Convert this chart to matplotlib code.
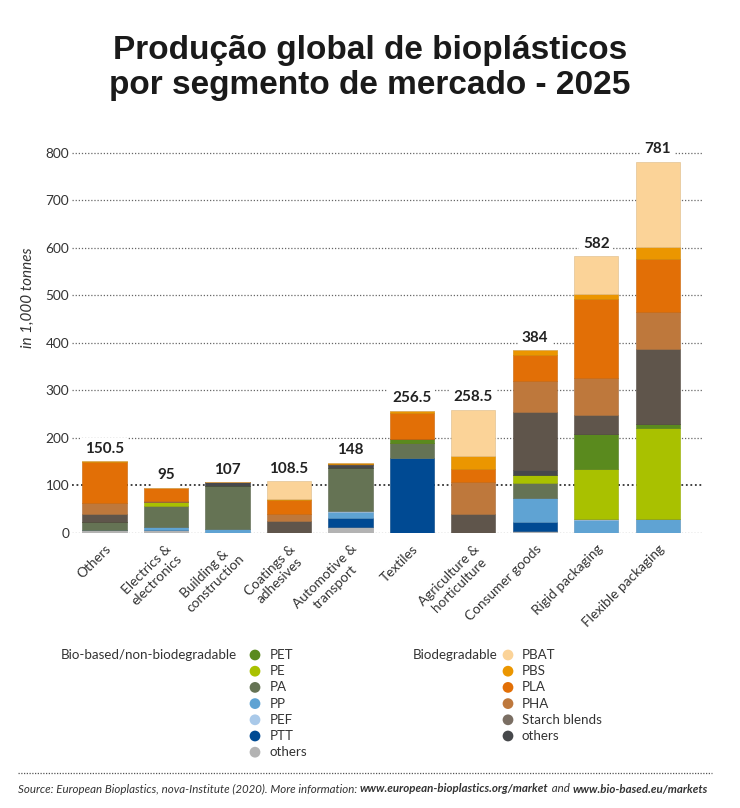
import matplotlib
matplotlib.use("Agg")
import matplotlib.pyplot as plt
import numpy as np
from matplotlib.colors import to_rgb

plt.rcParams['font.family'] = ['Lato', 'DejaVu Sans']

# categories (x axis)
categories = ["Others", "Electrics &\nelectronics", "Building &\nconstruction",
              "Coatings &\nadhesives", "Automotive &\ntransport", "Textiles",
              "Agriculture &\nhorticulture", "Consumer goods", "Rigid packaging",
              "Flexible packaging"]
totals = [150.5, 95, 107, 108.5, 148, 256.5, 258.5, 384, 582, 781]

# bio-based / non-biodegradable (in 1,000 tonnes)
others_bb = [6, 7, 0, 0, 13, 0, 0, 5, 0, 0]
ptt = [0, 0, 0, 0, 19.5, 157.5, 0, 19, 0, 0]
pp = [0, 5.5, 8, 0, 12, 0, 0, 50.5, 28, 29]
pef = [0, 0, 0, 0, 1.5, 0, 0, 0, 2, 0]
pa = [17, 45, 91, 0, 91, 31.5, 0, 31, 0, 0]
pe = [0, 7.5, 0, 0, 0, 0, 0, 16, 105, 191]
pet = [0, 0, 0, 0, 0, 9, 0, 0, 74, 8.5]
# biodegradable
others_bd = [0, 0, 8, 0, 6, 0, 0, 12, 0, 0]
starch = [18, 0, 0, 24.5, 2.5, 0, 41, 121, 39, 158]
pha = [22, 2, 0, 15, 0, 0, 66, 65, 77, 78.5]
pla = [86, 28, 0, 30, 0, 55, 28, 55.5, 168, 111]
pbs = [2.5, 0, 0, 3, 2.5, 3.5, 26.5, 9, 9, 25]
pbat = [0, 0, 0, 36, 0, 0, 97, 0, 80, 180]

# stacking order, bottom to top
stack = [
    (others_bb, "#b3b3b3"), (ptt, "#004a93"), (pp, "#5fa3d3"), (pef, "#a9c9e9"),
    (pa, "#657354"), (pe, "#a9c100"), (pet, "#5a8a1e"), (others_bd, "#46484b"),
    (starch, "#5f554b"), (pha, "#be783c"), (pla, "#e26f06"), (pbs, "#eb9600"),
    (pbat, "#fbd398"),
]

legend_left = [("PET", "#5a8a1e"), ("PE", "#a9c100"), ("PA", "#657354"),
               ("PP", "#5fa3d3"), ("PEF", "#a9c9e9"), ("PTT", "#004a93"),
               ("others", "#b3b3b3")]
legend_right = [("PBAT", "#fbd398"), ("PBS", "#eb9600"), ("PLA", "#e26f06"),
                ("PHA", "#be783c"), ("Starch blends", "#7a6e63"), ("others", "#46484b")]


def darker(c, f=0.88):
    r, g, b = to_rgb(c)
    return (r * f, g * f, b * f)


W, H = 740, 808
fig = plt.figure(figsize=(W / 100, H / 100), dpi=100)

ax = fig.add_axes([72 / W, 1 - 533 / H, 630 / W, 390 / H])
x = np.arange(len(categories))
bottom = np.zeros(len(categories))
for vals, col in stack:
    v = np.array(vals, dtype=float)
    ax.bar(x, v, bottom=bottom, width=0.72, color=col, edgecolor=darker(col),
           linewidth=0.4, zorder=3)
    bottom += v

ax.set_xlim(-0.53, 9.72)
ax.set_ylim(0, 820)
yt = np.arange(0, 801, 100)
for y in yt:
    if y == 100:
        ax.axhline(y, color="#333333", lw=1.3, ls=(0, (1, 1.5)), zorder=1)
    else:
        ax.axhline(y, color="#666666", lw=0.9, ls=(0, (1, 1.5)), zorder=1)
ax.set_yticks(yt)
ax.set_yticklabels([str(v) for v in yt], fontsize=9.8, color="#333333")
ax.tick_params(axis="y", length=0, pad=2)
ax.set_xticks(x)
ax.set_xticklabels(categories, rotation=45, ha="right", rotation_mode="anchor",
                   fontsize=9.8, color="#333333", multialignment="center")
ax.tick_params(axis="x", length=0, pad=7)
for s in ax.spines.values():
    s.set_visible(False)

for xi, t in zip(x, totals):
    lbl = f"{t:g}"
    ax.annotate(lbl, (xi, t), xytext=(0, 4), textcoords="offset points",
                ha="center", va="bottom", fontsize=11, fontweight="bold",
                color="#222222", zorder=5,
                bbox=dict(boxstyle="square,pad=0.25", fc="white", ec="none"))

ax.text(-0.07, 495, "in 1,000 tonnes", transform=ax.get_yaxis_transform(),
        rotation=90, ha="center", va="center", fontsize=11, style="italic",
        color="#333333")

# overlay in pixel coordinates for title, legend and source
ov = fig.add_axes([0, 0, 1, 1], zorder=-1)
ov.set_xlim(0, W)
ov.set_ylim(H, 0)
ov.axis("off")

ov.text(370, 68, "Produção global de bioplásticos\npor segmento de mercado - 2025",
        ha="center", va="center", fontsize=24, fontweight="bold",
        family=["Liberation Sans", "DejaVu Sans"], color="#1a1a1a", linespacing=1.2)

row_y = [655 + 16.2 * i for i in range(7)]
ov.text(237, row_y[0], "Bio-based/non-biodegradable", ha="right", va="center",
        fontsize=9.6, color="#333333")
for (name, col), y in zip(legend_left, row_y):
    ov.scatter([255], [y], s=60, color=col, edgecolor="none")
    ov.text(270, y, name, ha="left", va="center", fontsize=9.6, color="#333333")
ov.text(497, row_y[0], "Biodegradable", ha="right", va="center",
        fontsize=9.6, color="#333333")
for (name, col), y in zip(legend_right, row_y):
    ov.scatter([508], [y], s=60, color=col, edgecolor="none")
    ov.text(522, y, name, ha="left", va="center", fontsize=9.6, color="#333333")

ov.plot([18, 712], [773, 773], color="#555555", lw=0.9, ls=(0, (1, 1.2)))

pieces = [("Source: European Bioplastics, nova-Institute (2020). More information: ", "normal"),
          ("www.european-bioplastics.org/market", "bold"),
          (" and ", "normal"),
          ("www.bio-based.eu/markets", "bold")]
renderer = fig.canvas.get_renderer()
cx = 18
for txt, wt in pieces:
    t = ov.text(cx, 789, txt, ha="left", va="center", fontsize=8.3, style="italic",
                fontweight=wt, color="#333333")
    bb = t.get_window_extent(renderer)
    cx += bb.width

fig.savefig("out.png", dpi=100, facecolor="white")
